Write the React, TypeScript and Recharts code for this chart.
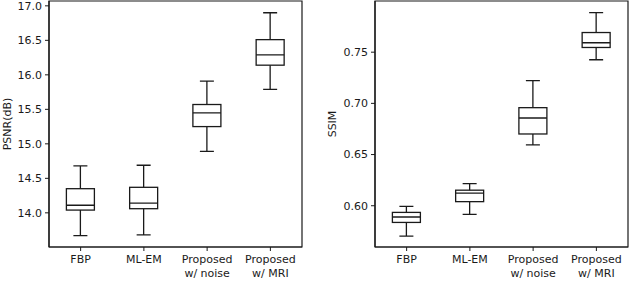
import { Bar, ComposedChart, ReferenceArea, XAxis, YAxis } from "recharts";

const categories = ["FBP", "ML-EM", "Proposed\nw/ noise", "Proposed\nw/ MRI"];

const psnrLow = [13.67, 13.68, 14.89, 15.79];
const psnrQ1 = [14.04, 14.06, 15.25, 16.14];
const psnrMedian = [14.11, 14.14, 15.45, 16.29];
const psnrQ3 = [14.35, 14.37, 15.57, 16.51];
const psnrHigh = [14.68, 14.69, 15.91, 16.9];
const psnrTicks = [14.0, 14.5, 15.0, 15.5, 16.0, 16.5, 17.0];

const ssimLow = [0.5704, 0.5915, 0.6594, 0.7426];
const ssimQ1 = [0.5837, 0.604, 0.6701, 0.7546];
const ssimMedian = [0.589, 0.6123, 0.6857, 0.7592];
const ssimQ3 = [0.5935, 0.6152, 0.6958, 0.7692];
const ssimHigh = [0.5993, 0.6217, 0.7223, 0.7886];
const ssimTicks = [0.6, 0.65, 0.7, 0.75];

const ink = "#1a1a1a";
const font = "DejaVu Sans";

const buildRows = (
  low: number[],
  q1: number[],
  med: number[],
  q3: number[],
  high: number[]
) =>
  categories.map((name, i) => ({
    name,
    low: low[i],
    q1: q1[i],
    med: med[i],
    q3: q3[i],
    high: high[i],
    range: [low[i], high[i]],
  }));

const psnrRows = buildRows(psnrLow, psnrQ1, psnrMedian, psnrQ3, psnrHigh);
const ssimRows = buildRows(ssimLow, ssimQ1, ssimMedian, ssimQ3, ssimHigh);

const BoxShape = (props: any) => {
  const { x, y, width, height, payload } = props;
  const top = Math.min(y, y + height);
  const bot = Math.max(y, y + height);
  const span = payload.high - payload.low;
  const py = (v: number) => top + ((payload.high - v) / span) * (bot - top);
  const cx = x + width / 2;
  const cap = width / 2;
  const sw = 1.3;
  return (
    <g stroke={ink} strokeWidth={sw} fill="none">
      <line x1={cx} x2={cx} y1={py(payload.high)} y2={py(payload.q3)} />
      <line x1={cx} x2={cx} y1={py(payload.q1)} y2={py(payload.low)} />
      <line x1={cx - cap / 2} x2={cx + cap / 2} y1={py(payload.high)} y2={py(payload.high)} />
      <line x1={cx - cap / 2} x2={cx + cap / 2} y1={py(payload.low)} y2={py(payload.low)} />
      <rect x={x} y={py(payload.q3)} width={width} height={py(payload.q1) - py(payload.q3)} />
      <line x1={x} x2={x + width} y1={py(payload.med)} y2={py(payload.med)} />
    </g>
  );
};

const CategoryTick = (props: any) => {
  const { x, y, payload } = props;
  const lines = String(payload.value).split("\n");
  return (
    <text x={x} y={y} textAnchor="middle" fontSize={11} fontFamily={font} fill={ink}>
      {lines.map((l, i) => (
        <tspan key={i} x={x} dy={i === 0 ? 10 : 13.5}>
          {l}
        </tspan>
      ))}
    </text>
  );
};

type PanelProps = {
  rows: any[];
  domain: [number, number];
  ticks: number[];
  digits: number;
  label: string;
  axisWidth: number;
  labelX: number;
  left: number;
};

const Panel = ({ rows, domain, ticks, digits, label, axisWidth, labelX, left }: PanelProps) => (
  <div style={{ position: "absolute", left, top: 0 }}>
    <ComposedChart
      width={320}
      height={291}
      data={rows}
      margin={{ top: 1, right: 320 - axisWidth - 253, bottom: 0, left: 0 }}
      barCategoryGap="27.5%"
    >
      <XAxis
        dataKey="name"
        interval={0}
        tick={<CategoryTick />}
        tickSize={4}
        height={44}
        axisLine={{ stroke: ink, strokeWidth: 1.2 }}
        tickLine={{ stroke: ink, strokeWidth: 1 }}
      />
      <YAxis
        type="number"
        domain={domain}
        ticks={ticks}
        allowDataOverflow
        width={axisWidth}
        tickSize={4}
        tickMargin={3}
        tickFormatter={(v: number) => v.toFixed(digits)}
        tick={{ fontSize: 11, fontFamily: font, fill: ink }}
        axisLine={{ stroke: ink, strokeWidth: 1.2 }}
        tickLine={{ stroke: ink, strokeWidth: 1 }}
        label={{
          content: () => (
            <text
              transform={`translate(${labelX},124) rotate(-90)`}
              textAnchor="middle"
              fontSize={11}
              fontFamily={font}
              fill={ink}
            >
              {label}
            </text>
          ),
        }}
      />
      {/* plot frame (matplotlib-style spines) */}
      <ReferenceArea
        y1={domain[0]}
        y2={domain[1]}
        fill="none"
        fillOpacity={0}
        stroke={ink}
        strokeWidth={1.2}
        ifOverflow="visible"
      />
      <Bar dataKey="range" shape={<BoxShape />} isAnimationActive={false} />
    </ComposedChart>
  </div>
);

export default function App() {
  return (
    <div style={{ position: "fixed", left: 0, top: 0, width: 640, height: 291, background: "#fff" }}>
      <Panel
        rows={psnrRows}
        domain={[13.505, 17.07]}
        ticks={psnrTicks}
        digits={1}
        label="PSNR(dB)"
        axisWidth={49}
        labelX={10.5}
        left={0}
      />
      <Panel
        rows={ssimRows}
        domain={[0.5597, 0.8]}
        ticks={ssimTicks}
        digits={2}
        label="SSIM"
        axisWidth={55}
        labelX={15.5}
        left={320}
      />
    </div>
  );
}
